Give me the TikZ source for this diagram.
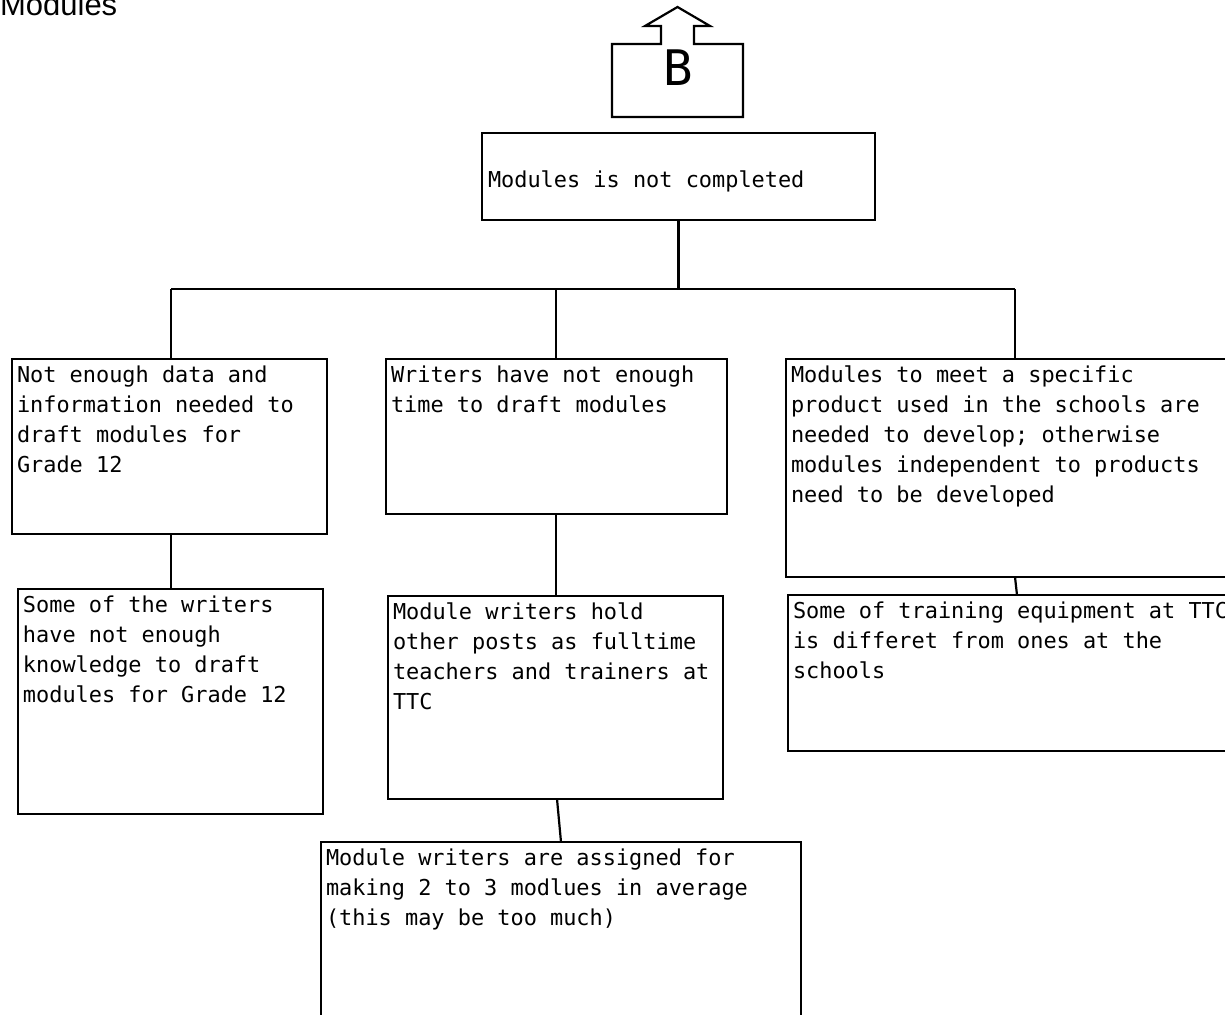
\documentclass[tikz,border=0pt]{standalone}
\usepackage{fontspec}
\newfontfamily\cellfont{DejaVu Sans Mono}
\newfontfamily\titlefont{Liberation Sans}
\begin{document}
\begin{tikzpicture}[x=1pt,y=-1pt,
  line width=2.2pt, line join=miter,
  cell/.style={draw, rectangle, inner sep=0pt, outer sep=0pt},
  celltext/.style={anchor=base west, inner sep=0pt, outer sep=0pt,
    font=\fontsize{21.9}{30}\cellfont},
  link/.style={draw, line width=2.2pt}]
\useasboundingbox (0,0) rectangle (1225,1014);
\fill[white] (0,0) rectangle (1225,1014);
\clip (0,0) rectangle (1225,1014);

% page heading
\node[anchor=base west, inner sep=0pt, font=\fontsize{31}{31}\titlefont] (title) at (-1,16) {Modules};

% connector symbol "B" (up arrow on a box)
\draw (612,44) -- (661,44) -- (661,26) -- (645,26) -- (677.5,7) -- (710,26)
  -- (694,26) -- (694,44) -- (743,44) -- (743,117) -- (612,117) -- cycle;
\node[anchor=base, inner sep=0pt, font=\fontsize{49}{49}\cellfont] (blabel) at (678,86) {B};

% boxes
\node[cell, minimum width=393, minimum height=87]  (top) at (678.5,176.5) {};
\node[cell, minimum width=315, minimum height=175] (n1) at (169.5,446.5) {};
\node[cell, minimum width=341, minimum height=155] (n2) at (556.5,436.5) {};
\node[cell, minimum width=514, minimum height=218] (n3) at (1043,468) {};
\node[cell, minimum width=305, minimum height=225] (n4) at (170.5,701.5) {};
\node[cell, minimum width=335, minimum height=203] (n5) at (555.5,697.5) {};
\node[cell, minimum width=480, minimum height=258] (n6) at (561,971) {};
\node[cell, minimum width=512, minimum height=156] (n7) at (1044,673) {};

% box texts
\node[celltext] (t0) at (488,187) {Modules is not completed};
\node[celltext] (t1) at (17,382) {\parbox[t]{600pt}{Not enough data and\\information needed to\\draft modules for\\Grade 12}};
\node[celltext] (t2) at (391,382) {\parbox[t]{600pt}{Writers have not enough\\time to draft modules}};
\node[celltext] (t3) at (791,382) {\parbox[t]{600pt}{Modules to meet a specific\\product used in the schools are\\needed to develop; otherwise\\modules independent to products\\need to be developed}};
\node[celltext] (t4) at (23,612) {\parbox[t]{600pt}{Some of the writers\\have not enough\\knowledge to draft\\modules for Grade 12}};
\node[celltext] (t5) at (393,619) {\parbox[t]{600pt}{Module writers hold\\other posts as fulltime\\teachers and trainers at\\TTC}};
\node[celltext] (t6) at (326,865) {\parbox[t]{600pt}{Module writers are assigned for\\making 2 to 3 modlues in average\\(this may be too much)}};
\node[celltext] (t7) at (793,618) {\parbox[t]{600pt}{Some of training equipment at TTC\\is differet from ones at the\\schools}};

% tree connectors
\coordinate (j1) at (171,289);
\coordinate (j2) at (556,289);
\coordinate (j3) at (1015,289);
\coordinate (k3) at (1017,0);
\path[link] (top.south) -- (top.south |- j1);
\path[link] (j1) -- (j3);
\path[link] (j1) -- (j1 |- n1.north);
\path[link] (j2) -- (j2 |- n2.north);
\path[link] (j3) -- (j3 |- n3.north);
\path[link] (j1 |- n1.south) -- (j1 |- n4.north);
\path[link] (j2 |- n2.south) -- (j2 |- n5.north);
\path[link] ([xshift=1.5pt]n5.south) -- (n6.north);
\path[link] (j3 |- n3.south) -- (k3 |- n7.north);
\end{tikzpicture}
\end{document}
